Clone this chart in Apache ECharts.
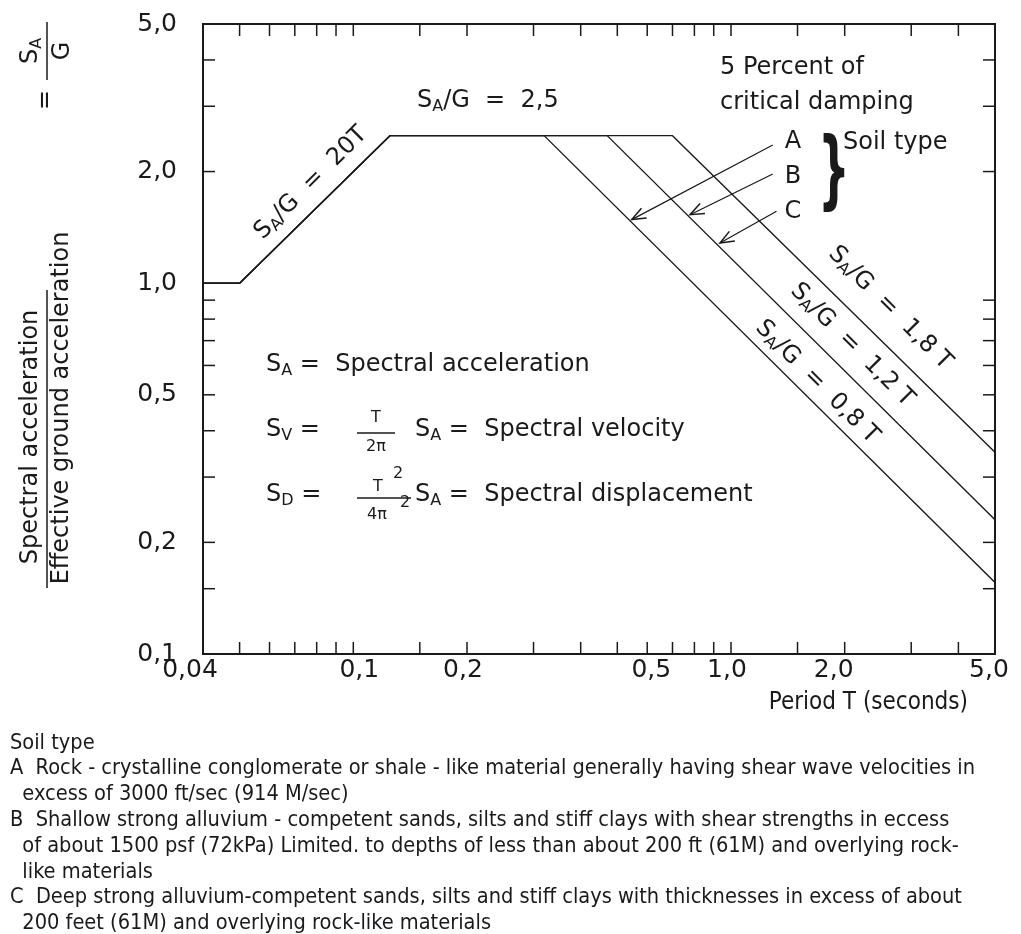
<!DOCTYPE html>
<html><head><meta charset="utf-8">
<script src="https://cdn.jsdelivr.net/npm/echarts@6/dist/echarts.min.js"></script>
<style>html,body{margin:0;padding:0;background:#fff}#c{width:1021px;height:934px}</style>
</head><body><div id="c"></div><script>
// ---- data ----
const xMin = 0.04, xMax = 5, yMin = 0.1, yMax = 5;
const curveA_T = [0.04, 0.05, 0.125, 0.32, 5];
const curveA_S = [1, 1, 2.5, 2.5, 0.156];
const curveB_T = [0.04, 0.05, 0.125, 0.47, 5];
const curveB_S = [1, 1, 2.5, 2.5, 0.23];
const curveC_T = [0.04, 0.05, 0.125, 0.70, 5];
const curveC_S = [1, 1, 2.5, 2.5, 0.35];
const xTickValues = [0.05,0.06,0.07,0.08,0.09,0.1,0.15,0.2,0.3,0.4,0.5,0.6,0.7,0.8,0.9,1,1.5,2,3,4];
const yTickValues = [0.15,0.2,0.3,0.4,0.5,0.6,0.7,0.8,0.9,2,3,4];
const xLabelValues = [0.04, 0.1, 0.2, 0.5, 1, 2, 5];
const xLabelTexts = ['0,04','0,1','0,2','0,5','1,0','2,0','5,0'];
const yLabelValues = [0.1, 0.2, 0.5, 1, 2, 5];
const yLabelTexts = ['0,1','0,2','0,5','1,0','2,0','5,0'];
const arrowFromT = [1.29, 1.29, 1.32];
const arrowFromS = [2.36, 1.97, 1.563];
const arrowToT = [0.546, 0.779, 0.935];
const arrowToS = [1.484, 1.53, 1.283];
const notes = [
  'Soil type',
  'A  Rock - crystalline conglomerate or shale - like material generally having shear wave velocities in',
  '  excess of 3000 ft/sec (914 M/sec)',
  'B  Shallow strong alluvium - competent sands, silts and stiff clays with shear strengths in eccess',
  '  of about 1500 psf (72kPa) Limited. to depths of less than about 200 ft (61M) and overlying rock-',
  '  like materials',
  'C  Deep strong alluvium-competent sands, silts and stiff clays with thicknesses in excess of about',
  '  200 feet (61M) and overlying rock-like materials'
];

// ---- styling ----
const ink = '#1a1a1a';
const F = 'DejaVu Sans';
const FC = 'DejaVu Sans Condensed';
const zip = (a, b) => a.map((v, i) => [v, b[i]]);
const curveStyle = {color: ink, width: 1.4};
const TL = 12;
const xLabelNudge = [-13, 6, -4, 34, -4, -11, -6]; // horizontal label placement as drawn in the reference

const rich = {
  m: {fontFamily: F, fontSize: 24, color: ink},
  sub: {fontFamily: F, fontSize: 16, color: ink, padding: [11, 0, 0, 0]}
};
function rt(x, y, text, opt) {
  opt = opt || {};
  const st = Object.assign({text: text, rich: rich, fill: ink, font: '24px "' + F + '"',
    align: 'left', verticalAlign: 'middle'}, opt.style || {});
  const el = {type: 'text', x: x, y: y, silent: true, style: st};
  if (opt.rotation != null) el.rotation = opt.rotation;
  return el;
}
function plain(x, y, text, size, family, align, extra) {
  return Object.assign({type: 'text', x: x, y: y, silent: true,
    style: {text: text, fill: ink, font: size + 'px "' + family + '"', align: align || 'left', verticalAlign: 'middle'}}, extra || {});
}
function seg(x1, y1, x2, y2, w) {
  return {type: 'line', silent: true, shape: {x1, y1, x2, y2}, style: {stroke: ink, lineWidth: w || 1.3}};
}
const R90 = Math.PI / 2, R45 = Math.PI / 4;

const graphics = [
  // y-axis title (rotated)
  plain(31, 437, 'Spectral acceleration', 24, F, 'center', {rotation: R90}),
  seg(47, 588, 47, 290, 1.5),
  plain(62, 408, 'Effective ground acceleration', 24, F, 'center', {rotation: R90}),
  plain(46, 100, '=', 24, F, 'center', {rotation: R90}),
  rt(31, 51, '{m|S}{sub|A}', {rotation: R90, style: {align: 'center'}}),
  seg(47, 80, 47, 22, 1.5),
  plain(63, 51, 'G', 24, F, 'center', {rotation: R90}),
  // x-axis title
  plain(968, 703, 'Period T (seconds)', 24, FC, 'right'),
  // annotations
  rt(417, 101, '{m|S}{sub|A}{m|/G  =  2,5}'),
  rt(311, 183, '{m|S}{sub|A}{m|/G  =  20T}', {rotation: R45, style: {align: 'center'}}),
  rt(890, 308, '{m|S}{sub|A}{m|/G  =  1,8 T}', {rotation: -R45, style: {align: 'center'}}),
  rt(852, 345, '{m|S}{sub|A}{m|/G  =  1,2 T}', {rotation: -R45, style: {align: 'center'}}),
  rt(817, 382, '{m|S}{sub|A}{m|/G  =  0,8 T}', {rotation: -R45, style: {align: 'center'}}),
  plain(720, 68, '5 Percent of', 24, F),
  plain(720, 103, 'critical damping', 24, F),
  plain(793, 142, 'A', 24, F, 'center'),
  plain(793, 177, 'B', 24, F, 'center'),
  plain(793, 212, 'C', 24, F, 'center'),
  {type: 'text', x: 834, y: 176, scaleX: 0.52, silent: true,
   style: {text: '}', fill: ink, font: 'bold 86px "' + F + '"', align: 'center', verticalAlign: 'middle'}},
  plain(843, 143, 'Soil type', 24, F),
  rt(266, 365, '{m|S}{sub|A}{m| =  Spectral acceleration}'),
  rt(266, 430, '{m|S}{sub|V}{m| =}'),
  plain(376, 418, 'T', 16, F, 'center'),
  seg(357, 433, 395, 433, 1.3),
  plain(376, 447, '2π', 16, F, 'center'),
  rt(415, 430, '{m|S}{sub|A}{m| =  Spectral velocity}'),
  rt(266, 495, '{m|S}{sub|D}{m| =}'),
  plain(378, 487, 'T', 16, F, 'center'),
  plain(398, 474, '2', 16, F, 'center'),
  seg(357, 498, 411, 498, 1.3),
  plain(377, 515, '4π', 16, F, 'center'),
  plain(405, 503, '2', 16, F, 'center'),
  rt(415, 495, '{m|S}{sub|A}{m| =  Spectral displacement}')
];
notes.forEach((t, i) => {
  graphics.push(plain(10, 743 + i * 25.8, t, 21.6, FC));
});

const option = {
  animation: false,
  backgroundColor: '#fff',
  grid: {left: 203, top: 24, width: 792, height: 630, show: true, borderColor: ink, borderWidth: 2, containLabel: false},
  xAxis: {type: 'log', logBase: 10, min: xMin, max: xMax,
    axisLine: {show: false}, axisTick: {show: false}, axisLabel: {show: false}, splitLine: {show: false}},
  yAxis: {type: 'log', logBase: 10, min: yMin, max: yMax,
    axisLine: {show: false}, axisTick: {show: false}, axisLabel: {show: false}, splitLine: {show: false}},
  graphic: graphics,
  series: [
    {type: 'line', data: zip(curveA_T, curveA_S), showSymbol: false, lineStyle: curveStyle, silent: true},
    {type: 'line', data: zip(curveB_T, curveB_S), showSymbol: false, lineStyle: curveStyle, silent: true},
    {type: 'line', data: zip(curveC_T, curveC_S), showSymbol: false, lineStyle: curveStyle, silent: true},
    { // x ticks bottom + top
      type: 'custom', silent: true, data: xTickValues.map(v => [v, yMin]),
      renderItem: (params, api) => {
        const cs = params.coordSys;
        const x = api.coord([api.value(0), yMin])[0];
        const b = cs.y + cs.height, t = cs.y;
        return {type: 'group', children: [
          {type: 'line', shape: {x1: x, y1: b, x2: x, y2: b - TL}, style: {stroke: ink, lineWidth: 1.5}},
          {type: 'line', shape: {x1: x, y1: t, x2: x, y2: t + TL}, style: {stroke: ink, lineWidth: 1.5}}
        ]};
      }
    },
    { // y ticks left + right
      type: 'custom', silent: true, data: yTickValues.map(v => [xMin, v]),
      renderItem: (params, api) => {
        const cs = params.coordSys;
        const y = api.coord([xMin, api.value(1)])[1];
        const l = cs.x, r = cs.x + cs.width;
        return {type: 'group', children: [
          {type: 'line', shape: {x1: l, y1: y, x2: l + TL, y2: y}, style: {stroke: ink, lineWidth: 1.5}},
          {type: 'line', shape: {x1: r, y1: y, x2: r - TL, y2: y}, style: {stroke: ink, lineWidth: 1.5}}
        ]};
      }
    },
    { // x labels
      type: 'custom', silent: true, data: xLabelValues.map(v => [v, yMin]),
      renderItem: (params, api) => {
        const p = api.coord([api.value(0), yMin]);
        return {type: 'text', x: p[0] + xLabelNudge[params.dataIndex], y: p[1] + 16,
          style: {text: xLabelTexts[params.dataIndex], fill: ink, font: '25px "' + F + '"', align: 'center', verticalAlign: 'middle'}};
      }
    },
    { // y labels
      type: 'custom', silent: true, data: yLabelValues.map(v => [xMin, v]),
      renderItem: (params, api) => {
        const p = api.coord([xMin, api.value(1)]);
        return {type: 'text', x: p[0] - 26, y: p[1],
          style: {text: yLabelTexts[params.dataIndex], fill: ink, font: '25px "' + F + '"', align: 'right', verticalAlign: 'middle'}};
      }
    },
    { // arrows from soil-type letters to the curves
      type: 'custom', silent: true,
      data: arrowFromT.map((v, i) => [v, arrowFromS[i], arrowToT[i], arrowToS[i]]),
      renderItem: (params, api) => {
        const a = api.coord([api.value(0), api.value(1)]);
        const b = api.coord([api.value(2), api.value(3)]);
        const ang = Math.atan2(a[1] - b[1], a[0] - b[0]);
        const L = 15, h = 0.38;
        const w1 = [b[0] + L * Math.cos(ang + h), b[1] + L * Math.sin(ang + h)];
        const w2 = [b[0] + L * Math.cos(ang - h), b[1] + L * Math.sin(ang - h)];
        return {type: 'group', children: [
          {type: 'line', shape: {x1: a[0], y1: a[1], x2: b[0], y2: b[1]}, style: {stroke: ink, lineWidth: 1.2}},
          {type: 'polyline', shape: {points: [w1, b, w2]}, style: {stroke: ink, lineWidth: 1.5, fill: null}}
        ]};
      }
    }
  ]
};
const chart = echarts.init(document.getElementById('c'));
chart.setOption(option);
</script></body></html>
